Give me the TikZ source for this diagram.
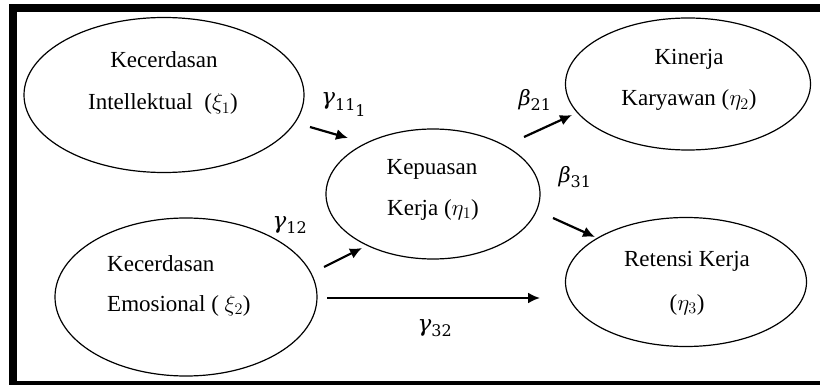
\documentclass[tikz,border=0pt]{standalone}
\usepackage{fix-cm}
\usepackage{fontspec}
\setmainfont{Liberation Serif}
\newfontfamily\labfont{DejaVu Serif}
\newcommand\labsub[1]{\mbox{\labfont\fontsize{16}{16}\selectfont #1}}
\newcommand\labgreek[1]{\mbox{\labfont\itshape #1}}
\usetikzlibrary{shapes.geometric,arrows.meta}
\begin{document}
\begin{tikzpicture}[x=1pt,y=-1pt,
  ell/.style={ellipse,draw,line width=1.2pt,inner sep=0pt},
  txt/.style={font=\fontsize{23}{41}\selectfont,anchor=base,inner sep=0pt},
  labg/.style={font=\fontsize{23}{26}\selectfont,inner sep=0pt},
  labb/.style={font=\fontsize{21}{24}\selectfont,inner sep=0pt},
  arr/.style={-{Latex[length=12pt,width=11pt]},line width=2.2pt},
  frame/.style={line width=8pt}]
\useasboundingbox (0,0) rectangle (820,385);
\clip (0,0) rectangle (820,385);
\draw[frame] (13,8.5) rectangle (860,385);
% ellipses
\node[ell,minimum width=280pt,minimum height=155pt] (e1) at (164,95) {};
\node[ell,minimum width=214pt,minimum height=130pt] (e2) at (433,194) {};
\node[ell,minimum width=245pt,minimum height=132pt] (e3) at (688,84) {};
\node[ell,minimum width=262pt,minimum height=158pt] (e4) at (186,297) {};
\node[ell,minimum width=241pt,minimum height=129pt] (e5) at (686,282) {};
% texts
\node[txt] (t1a) at (164,68) {Kecerdasan};
\node[txt] (t1b) at (163,110) {Intellektual\ \ ($\xi_1$)};
\node[txt] (t2a) at (432,175) {Kepuasan};
\node[txt] (t2b) at (433,215) {Kerja ($\eta_1$)};
\node[txt] (t3a) at (689,65) {Kinerja};
\node[txt] (t3b) at (689,106) {Karyawan ($\eta_2$)};
\node[txt,anchor=base west] (t4a) at (107,271) {Kecerdasan};
\node[txt,anchor=base west] (t4b) at (107,311) {Emosional ( $\xi_2$)};
\node[txt] (t5a) at (687,266) {Retensi Kerja};
\node[txt] (t5b) at (687,310) {($\eta_3$)};
% arrow end points
\coordinate (a1s) at (310,127); \coordinate (a1e) at (348,138);
\coordinate (a2s) at (324,267); \coordinate (a2e) at (362,248);
\coordinate (a3s) at (524,137); \coordinate (a3e) at (572,115);
\coordinate (a4s) at (553,218); \coordinate (a4e) at (595,237);
\coordinate (a5s) at (327,298); \coordinate (a5e) at (540,298);
\draw[arr] (a1s) -- (a1e);
\draw[arr] (a2s) -- (a2e);
\draw[arr] (a3s) -- (a3e);
\draw[arr] (a4s) -- (a4e);
\draw[arr] (a5s) -- (a5e);
% labels
\node[labg] (g11) at (344,105) {$\labgreek{γ}_{\labsub{11}_{\labsub{1}}}$};
\node[labg] (g12) at (290,225) {$\labgreek{γ}_{\labsub{12}}$};
\node[labb] (b21) at (535,100) {$\labgreek{β}_{\labsub{21}}$};
\node[labb] (b31) at (575,177) {$\labgreek{β}_{\labsub{31}}$};
\node[labg] (g32) at (435,328) {$\labgreek{γ}_{\labsub{32}}$};
\end{tikzpicture}
\end{document}
